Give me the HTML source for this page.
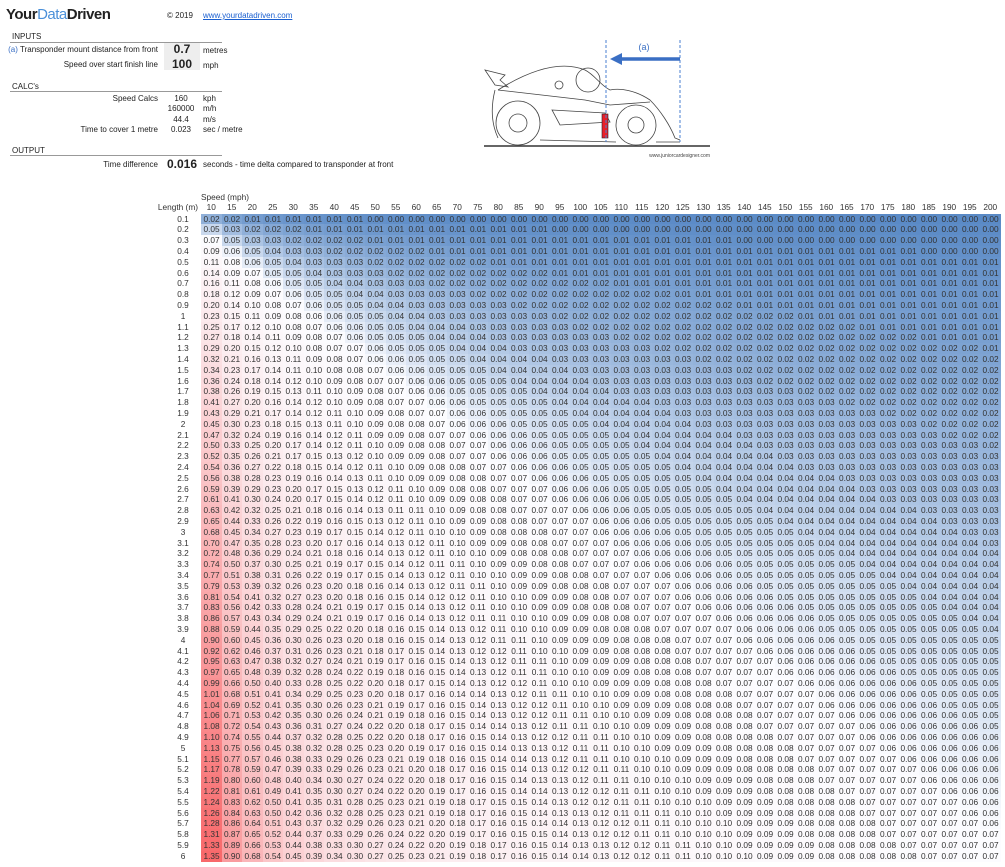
<!DOCTYPE html>
<html><head><meta charset="utf-8">
<style>
body{margin:0;width:1005px;height:867px;background:#fff;font-family:"Liberation Sans",Arial,sans-serif;color:#222;position:relative;overflow:hidden}
.a{position:absolute;white-space:nowrap;font-size:8px;line-height:11px}
.r{text-align:right}
.hl{position:absolute;height:1px;background:#999}
#t div{position:absolute;font-size:8.3px;line-height:10.8px;text-align:center;color:#333}
</style></head><body>
<div class="a" style="left:6px;top:6px;font-size:15px;line-height:18px;font-weight:bold;letter-spacing:-0.5px">Your<span style="color:#4a90d9;font-weight:normal">Data</span>Driven</div>
<div class="a" style="left:167px;top:10px">© 2019</div>
<div class="a" style="left:203px;top:10px;color:#1a5fd0;text-decoration:underline">www.yourdatadriven.com</div>

<div class="a" style="left:12px;top:31px">INPUTS</div><div class="hl" style="left:10px;top:42px;width:212px"></div>
<div style="position:absolute;left:164px;top:43px;width:36px;height:27px;background:#eee"></div>
<div class="a r" style="right:847px;top:44px"><span style="color:#3a6fc4">(a)</span> Transponder mount distance from front</div>
<div class="a" style="left:170px;top:42px;width:24px;text-align:center;font-size:12px;line-height:14px;font-weight:bold">0.7</div>
<div class="a" style="left:203px;top:45px">metres</div>
<div class="a r" style="right:847px;top:59px">Speed over start finish line</div>
<div class="a" style="left:170px;top:57px;width:24px;text-align:center;font-size:12px;line-height:14px;font-weight:bold">100</div>
<div class="a" style="left:203px;top:60px">mph</div>

<div class="a" style="left:12px;top:81px">CALC's</div><div class="hl" style="left:10px;top:91px;width:212px"></div>
<div class="a r" style="right:847px;top:93px">Speed Calcs</div>
<div class="a" style="left:168px;top:93px;width:26px;text-align:center">160</div><div class="a" style="left:203px;top:93px">kph</div>
<div class="a" style="left:166px;top:103px;width:30px;text-align:center">160000</div><div class="a" style="left:203px;top:103px">m/h</div>
<div class="a" style="left:168px;top:114px;width:26px;text-align:center">44.4</div><div class="a" style="left:203px;top:114px">m/s</div>
<div class="a r" style="right:847px;top:124px">Time to cover 1 metre</div>
<div class="a" style="left:168px;top:124px;width:26px;text-align:center">0.023</div><div class="a" style="left:203px;top:124px">sec / metre</div>

<div class="a" style="left:12px;top:145px">OUTPUT</div><div class="hl" style="left:10px;top:155px;width:212px"></div>
<div class="a r" style="right:847px;top:159px">Time difference</div>
<div class="a" style="left:166px;top:157px;width:32px;text-align:center;font-size:12px;line-height:14px;font-weight:bold">0.016</div>
<div class="a" style="left:203px;top:159px">seconds - time delta compared to transponder at front</div>

<svg style="position:absolute;left:470px;top:30px" width="260" height="140" viewBox="0 0 260 140">
<g fill="none" stroke="#444" stroke-width="0.8">
<path d="M15 40 L35 45 L30 50 L38 57 L25 55 Z"/>
<path d="M25 60 C20 80 22 95 28 108 M28 60 C60 40 90 30 115 40 C125 45 130 55 140 60 C150 58 165 60 180 70 C190 80 200 95 205 108 L210 110"/>
<path d="M28 60 L115 70 L140 75 L180 72"/>
<circle cx="118" cy="50" r="12"/><circle cx="89" cy="55" r="4"/>
<circle cx="48" cy="93" r="22"/><circle cx="48" cy="93" r="9"/>
<circle cx="166" cy="95" r="20"/><circle cx="166" cy="95" r="8"/>
<path d="M82 80 L135 83 L140 92 L90 95 Z"/>
<path d="M70 110 L146 112 M186 112 L210 112"/>
</g>
<line x1="14" y1="116" x2="240" y2="116" stroke="#333" stroke-width="1.5"/>
<rect x="132" y="84" width="6" height="24" fill="#e8202a" stroke="#223" stroke-width="0.6"/>
<line x1="136" y1="10" x2="136" y2="112" stroke="#4a7fd0" stroke-dasharray="3,2"/>
<line x1="210" y1="10" x2="210" y2="112" stroke="#4a7fd0" stroke-dasharray="3,2"/>
<line x1="150" y1="29" x2="210" y2="29" stroke="#3a6fc4" stroke-width="3.5"/>
<polygon points="140,29 152,23 152,35" fill="#3a6fc4"/>
<text x="174" y="20" font-size="9" fill="#3a6fc4" text-anchor="middle" font-family="Liberation Sans">(a)</text>
<text x="240" y="127" font-size="5" fill="#444" text-anchor="end" font-family="Liberation Sans">www.juniorcardesigner.com</text>
</svg>

<div id="t"></div>
<script>
var t=document.getElementById('t'),h='';
var x0=201,cw=20.5,y0=213.6,rh=10.8;
h+='<div style="left:201px;top:192px;text-align:left">Speed (mph)</div>';
h+='<div style="left:150px;top:'+(y0-rh-1)+'px;width:48px;text-align:right">Length (m)</div>';
var sp=[];for(var s=10;s<=200;s+=5)sp.push(s);
sp.forEach(function(s,j){h+='<div style="left:'+(x0+j*cw)+'px;top:'+(y0-rh-1)+'px;width:'+cw+'px">'+s+'</div>';});
var vals=[];
for(var i=1;i<=60;i++)for(var j=0;j<sp.length;j++)vals.push(2.25*(i/10)/sp[j]);
var so=vals.slice().sort(function(a,b){return a-b});
var mn=so[0],mx=so[so.length-1],md=(so[so.length/2-1]+so[so.length/2])/2;
function mix(a,b,f){return [0,1,2].map(function(k){return Math.round(a[k]+(b[k]-a[k])*f)})}
var B=[90,138,198],W=[252,252,255],R=[248,105,107];
for(var i=1;i<=60;i++){
 var y=y0+(i-1)*rh,L=i/10;
 h+='<div style="left:160px;top:'+y+'px;width:46px;text-align:center">'+(Math.round(L*10)/10)+'</div>';
 for(var j=0;j<sp.length;j++){
  var v=2.25*L/sp[j],c;
  c=v<=md?mix(B,W,(v-mn)/(md-mn)):mix(W,R,(v-md)/(mx-md));
  h+='<div style="left:'+(x0+j*cw)+'px;top:'+y+'px;width:'+(cw+0.6)+'px;height:'+(rh+0.4)+'px;background:rgb('+c+')">'+(Math.round(v*100+1e-7)/100).toFixed(2)+'</div>';
 }
}
t.innerHTML=h;
</script>
</body></html>
